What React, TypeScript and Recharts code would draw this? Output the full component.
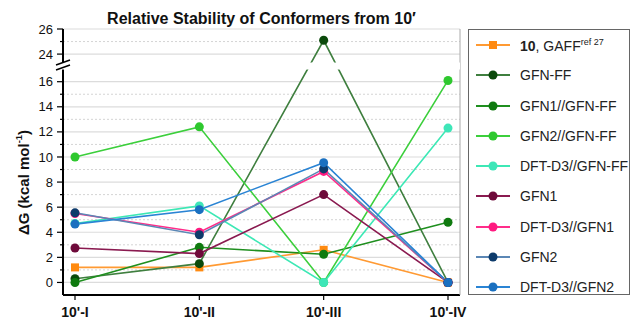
import { LineChart, Line, XAxis, YAxis, CartesianGrid } from "recharts";

const categories = ["10'-I", "10'-II", "10'-III", "10'-IV"];

const gaff = [1.2, 1.2, 2.6, 0];
const gfnff = [0.3, 1.5, 25.1, 0];
const gfn1GfnFF = [0, 2.8, 2.25, 4.8];
const gfn2GfnFF = [10.0, 12.4, 0, 16.1];
const dftGfnFF = [4.7, 6.1, 0, 12.3];
const gfn1 = [2.75, 2.3, 7.0, 0];
const dftGfn1 = [5.5, 4.0, 8.85, 0];
const gfn2 = [5.55, 3.8, 9.05, 0];
const dftGfn2 = [4.65, 5.8, 9.55, 0];

const majorTicks = [0, 2, 4, 6, 8, 10, 12, 14, 16, 24, 26];
const minorTicks = [1, 3, 5, 7, 9, 11, 13, 15, 25];

// broken axis: everything above the gap is pulled down
const BREAK_FROM = 20;
const SHIFT = 5.8;
const BREAK_AT = 17.25;
const toAxis = (v: number) => (v > BREAK_FROM ? v - SHIFT : v);
const fromAxis = (v: number) => (v > BREAK_AT ? Math.round(v + SHIFT) : v);

const FONT = '"Liberation Sans", Arial, sans-serif';
const PLOT_W = 397;

type Series = {
  key: string;
  label: React.ReactNode;
  values: number[];
  line: string;
  dot: string;
  square?: boolean;
};

const series: Series[] = [
  {
    key: "gaff",
    label: (
      <>
        <b>10</b>, GAFF<sup style={{ fontSize: 9 }}>ref 27</sup>
      </>
    ),
    values: gaff,
    line: "#ff9a33",
    dot: "#ff8a10",
    square: true,
  },
  { key: "gfnff", label: "GFN-FF", values: gfnff, line: "#3f7f3f", dot: "#0b4a0b" },
  { key: "gfn1ff", label: "GFN1//GFN-FF", values: gfn1GfnFF, line: "#1f8f1f", dot: "#0f7a0f" },
  { key: "gfn2ff", label: "GFN2//GFN-FF", values: gfn2GfnFF, line: "#3ccf3c", dot: "#2ec82e" },
  { key: "dftff", label: "DFT-D3//GFN-FF", values: dftGfnFF, line: "#3de8b5", dot: "#3ee6b8" },
  { key: "gfn1", label: "GFN1", values: gfn1, line: "#8a1a50", dot: "#6e0a3a" },
  { key: "dftgfn1", label: "DFT-D3//GFN1", values: dftGfn1, line: "#ff2d8a", dot: "#ff1a80" },
  { key: "gfn2", label: "GFN2", values: gfn2, line: "#5b87b5", dot: "#0d3b6b" },
  { key: "dftgfn2", label: "DFT-D3//GFN2", values: dftGfn2, line: "#2a84d4", dot: "#1a70c0" },
];

const data = categories.map((cat, i) => {
  const row: Record<string, string | number> = { cat };
  series.forEach((s) => {
    row[s.key] = toAxis(s.values[i]);
  });
  return row;
});

const yTicks = [...majorTicks.map(toAxis), ...minorTicks.map(toAxis), BREAK_AT];

function YTick(props: any) {
  const { x, y, payload } = props;
  const v = payload.value;
  const ax = x + 10; // axis line x
  if (v === BREAK_AT) {
    return (
      <g>
        <rect x={ax - 9} y={y - 3.5} width={PLOT_W + 9} height={7} fill="#fff" />
        <line x1={ax - 7} y1={y - 1} x2={ax + 7} y2={y - 6} stroke="#000" strokeWidth={1.5} />
        <line x1={ax - 7} y1={y + 4} x2={ax + 7} y2={y - 1} stroke="#000" strokeWidth={1.5} />
      </g>
    );
  }
  const real = fromAxis(v);
  const major = majorTicks.includes(real);
  return (
    <g>
      <line x1={major ? ax - 6 : ax - 3} y1={y} x2={ax} y2={y} stroke="#000" strokeWidth={1.2} />
      {major && (
        <text x={ax - 10} y={y} dy="0.35em" textAnchor="end" fontSize={13} fontFamily={FONT} fill="#111">
          {real}
        </text>
      )}
    </g>
  );
}

function XTick(props: any) {
  const { x, y, payload } = props;
  return (
    <text x={x} y={y} dy="0.71em" textAnchor="middle" fontSize={14} fontWeight="bold" fontFamily={FONT} fill="#111">
      {payload.value}
    </text>
  );
}

function Marker(color: string, square?: boolean) {
  return (props: any) => {
    const { cx, cy, index } = props;
    if (cx == null || cy == null) return <g key={index} />;
    return square ? (
      <rect key={index} x={cx - 4} y={cy - 4} width={8} height={8} fill={color} />
    ) : (
      <circle key={index} cx={cx} cy={cy} r={4.5} fill={color} />
    );
  };
}

function LegendBox() {
  return (
    <div
      style={{
        position: "absolute",
        left: 468,
        top: 29,
        width: 162,
        height: 266,
        boxSizing: "border-box",
        border: "1px solid #666",
        fontFamily: FONT,
        fontSize: 14,
        color: "#222",
      }}
    >
      {series.map((s) => (
        <div key={s.key} style={{ display: "flex", alignItems: "center", height: 30.25 }}>
          <svg width={34} height={12} style={{ marginLeft: 7, marginRight: 10 }}>
            <line x1={0} y1={6} x2={34} y2={6} stroke={s.line} strokeWidth={1.8} />
            {s.square ? (
              <rect x={13} y={2} width={8} height={8} fill={s.dot} />
            ) : (
              <circle cx={17} cy={6} r={4.5} fill={s.dot} />
            )}
          </svg>
          <span style={{ whiteSpace: "nowrap" }}>{s.label}</span>
        </div>
      ))}
    </div>
  );
}

export default function App() {
  return (
    <div style={{ position: "absolute", left: 0, top: 0, width: 633, height: 320, background: "#fff" }}>
      <div
        style={{
          position: "absolute",
          left: 0,
          top: 8,
          width: 523,
          textAlign: "center",
          fontFamily: FONT,
          fontWeight: "bold",
          fontSize: 16,
          lineHeight: "22px",
          color: "#111",
        }}
      >
        Relative Stability of Conformers from 10′
      </div>
      <LineChart
        width={633}
        height={320}
        data={data}
        margin={{ top: 29, right: 172, bottom: 0, left: 23 }}
      >
        <CartesianGrid
          vertical={false}
          horizontalValues={majorTicks.map(toAxis)}
          stroke="#dcdcdc"
          strokeWidth={1.2}
        />
        <CartesianGrid
          vertical={false}
          horizontalValues={minorTicks.map(toAxis)}
          stroke="#d4d4d4"
          strokeDasharray="2 2"
        />
        <XAxis
          dataKey="cat"
          padding={{ left: 12, right: 12 }}
          height={25}
          axisLine={{ stroke: "#000", strokeWidth: 2 }}
          tickLine={{ stroke: "#000", strokeWidth: 1.2 }}
          tickSize={5}
          tickMargin={7}
          tick={<XTick />}
          interval={0}
        />
        <XAxis
          xAxisId="frame"
          orientation="top"
          dataKey="cat"
          height={0}
          tick={false}
          tickLine={false}
          axisLine={{ stroke: "#888", strokeWidth: 1.2 }}
        />
        <YAxis
          type="number"
          width={40}
          domain={[-1, toAxis(26)]}
          ticks={yTicks}
          allowDataOverflow
          axisLine={{ stroke: "#000", strokeWidth: 2 }}
          tickLine={false}
          tickSize={6}
          tickMargin={4}
          tick={<YTick />}
          interval={0}
          label={{
            content: () => (
              <text
                x={23}
                y={235}
                transform="rotate(-90 23 235)"
                textAnchor="start"
                dominantBaseline="central"
                fontSize={15}
                fontWeight="bold"
                fontFamily={FONT}
                fill="#111"
              >
                ΔG (kcal mol
                <tspan dy={-5} fontSize={9.5}>
                  -1
                </tspan>
                <tspan dy={5}>)</tspan>
              </text>
            ),
          }}
        />
        <YAxis
          yAxisId="frame"
          orientation="right"
          width={1}
          domain={[0, 1]}
          tick={false}
          tickLine={false}
          axisLine={{ stroke: "#aaa", strokeWidth: 1 }}
        />
        {series.map((s) => (
          <Line
            key={s.key}
            dataKey={s.key}
            name={String(s.key)}
            type="linear"
            stroke={s.line}
            strokeWidth={1.6}
            dot={Marker(s.dot, s.square)}
            activeDot={false}
            isAnimationActive={false}
          />
        ))}
      </LineChart>
      <LegendBox />
    </div>
  );
}
